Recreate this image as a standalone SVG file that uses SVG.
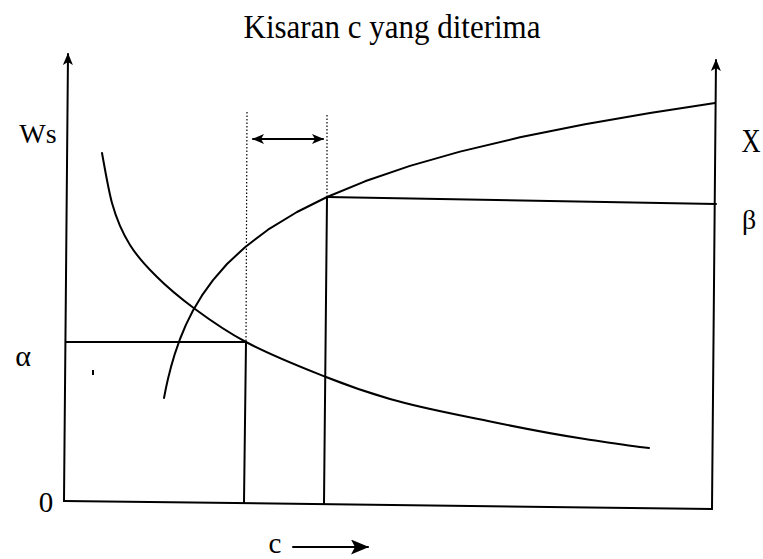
<svg xmlns="http://www.w3.org/2000/svg" width="763" height="559" viewBox="0 0 763 559">
  <style>
    .ln { fill: none; stroke: #000; stroke-width: 2; stroke-linecap: round; stroke-linejoin: round; }
    .dot { fill: none; stroke: #000; stroke-width: 1.2; stroke-dasharray: 1.5 2; }
    .t { font-family: "Liberation Serif", "Times New Roman", serif; fill: #000; }
  </style>
  <defs>
    <marker id="ah" viewBox="0 0 12 10" refX="11" refY="5" markerWidth="12" markerHeight="10" markerUnits="userSpaceOnUse" orient="auto-start-reverse">
      <path d="M0,0 L12,5 L0,10 L3,5 Z" fill="#000"/>
    </marker>
    <marker id="ahBig" viewBox="0 0 18 15" refX="17" refY="7.5" markerWidth="18" markerHeight="15" markerUnits="userSpaceOnUse" orient="auto">
      <path d="M0,0 L18,7.5 L0,15 L4,7.5 Z" fill="#000"/>
    </marker>
  </defs>
  <rect width="763" height="559" fill="#fff"/>

  <g id="title">
    <text class="t" transform="translate(392,38) scale(1,1.12)" x="0" y="0" font-size="31" text-anchor="middle">Kisaran c yang diterima</text>
  </g>

  <g id="axes">
    <line class="ln" x1="64" y1="501" x2="68" y2="54" marker-end="url(#ah)"/>
    <line class="ln" x1="712" y1="509" x2="716" y2="60" marker-end="url(#ah)"/>
    <line class="ln" x1="64" y1="501" x2="712" y2="509"/>
  </g>

  <g id="labels">
    <text class="t" x="38" y="143" font-size="28" text-anchor="middle">Ws</text>
    <text class="t" transform="translate(751,152) scale(0.8,1)" x="0" y="0" font-size="33" text-anchor="middle">X</text>
    <text class="t" x="749" y="229" font-size="28" text-anchor="middle">β</text>
    <text class="t" x="23" y="366" font-size="30" text-anchor="middle">α</text>
    <text class="t" x="46" y="512" font-size="29" text-anchor="middle">0</text>
    <text class="t" x="275" y="553" font-size="29" text-anchor="middle">c</text>
  </g>

  <g id="curve-increasing">
    <path class="ln" d="M164,398 L166,387.8 L168,378.8 L171,366.9 L175,353.3 L180,339 L186,324.6 L193,310.5 L202,295.4 L213,280.1 L227,264 L245,247.2 L268,229.7 L297,212 L327,197 L365,181.3 L410,165.9 L460,151.6 L520,137.3 L585,124.2 L650,112.9 L715,103"/>
  </g>

  <g id="curve-decreasing">
    <path class="ln" d="M102,153 C105.33,171.33 108.67,191 112,203 C118,224.6 124,235.4 130,245 C138.67,258.87 147.33,267.33 156,276 C169,289 182,299.38 195,309 C212,321.58 229,332.99 246,342 C272.67,356.13 299.33,366.33 326,377 C347.33,385.53 368.67,392.81 390,399 C422.67,408.47 455.33,414.14 488,421 C520.33,427.79 552.67,434.15 585,439 C606.33,442.2 627.67,445.87 649,448"/>
  </g>

  <g id="connectors">
    <line class="ln" x1="66" y1="342" x2="246" y2="342"/>
    <line class="ln" x1="246" y1="342" x2="244" y2="502"/>
    <line class="ln" x1="327" y1="197" x2="324" y2="504"/>
    <line class="ln" x1="327" y1="197" x2="716" y2="204"/>
    <line class="dot" x1="247" y1="112" x2="246" y2="342"/>
    <line class="dot" x1="327" y1="115" x2="327" y2="197"/>
    <line class="ln" x1="253" y1="139" x2="323" y2="139" marker-start="url(#ah)" marker-end="url(#ah)"/>
    <line class="ln" x1="293" y1="547" x2="368" y2="547" stroke-width="2.5" marker-end="url(#ahBig)"/>
    <rect x="92" y="370" width="2" height="5" fill="#000"/>
  </g>
</svg>
